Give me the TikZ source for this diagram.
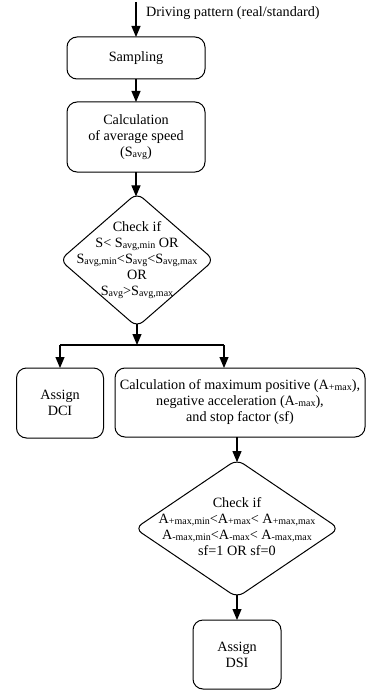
\documentclass[tikz,border=0pt]{standalone}
\usepackage{fontspec}
\setmainfont{Liberation Serif}
\usetikzlibrary{shapes.geometric,arrows.meta}
\newcommand{\subtxt}[1]{{\fontsize{10}{10}\selectfont\raisebox{-0.8pt}{#1}}}
\tikzset{
  mainfont/.style={font=\fontsize{14.2}{16}\selectfont},
  box/.style={draw, rounded corners=10pt, align=center, inner sep=0pt, outer sep=0pt, line width=1pt, mainfont},
  dia/.style={draw, diamond, rounded corners=8pt, inner sep=0pt, outer sep=0pt, line width=1pt},
  txt/.style={align=center, inner sep=0pt, mainfont},
  arr/.style={-{Triangle[length=11pt,width=9pt]}, line width=1.1pt},
  ln/.style={line width=1.1pt},
}
\begin{document}
\begin{tikzpicture}[x=1pt,y=-1pt]
\useasboundingbox (0,0) rectangle (366,690);
% input
\coordinate (in) at (136,2);
\node[txt, anchor=base west] (inlbl) at (146,17) {Driving pattern (real/standard)};
% boxes
\node[box, minimum width=138pt, minimum height=42pt] (samp) at (136,58) {Sampling};
\node[box, minimum width=138pt, minimum height=70pt] (calc) at (136,137)
  {Calculation\\ of average speed\\ (S\subtxt{avg})};
% diamond 1
\node[dia, minimum width=154pt, minimum height=134pt] (d1) at (137,260) {};
\node[txt] (d1t) at (d1.center)
  {Check if\\ S< S\subtxt{avg,min} OR\\ S\subtxt{avg,min}<S\subtxt{avg}<S\subtxt{avg,max}\\ OR\\ S\subtxt{avg}>S\subtxt{avg,max}};
% split
\coordinate (jl) at (60,345);
\coordinate (jr) at (224,345);
\coordinate (jc) at (137,345);
\node[box, minimum width=87pt, minimum height=70pt] (dci) at (60,403) {Assign\\ DCI};
\node[box, minimum width=250pt, minimum height=69pt] (cm) at (240,402.5)
  {Calculation of maximum positive (A\subtxt{+max}),\\ negative acceleration (A\subtxt{-max}),\\ and stop factor (sf)};
% diamond 2
\node[dia, minimum width=204pt, minimum height=138pt] (d2) at (237,528.5) {};
\node[txt] (d2t) at (237,527)
  {Check if\\ A\subtxt{+max,min}<A\subtxt{+max}< A\subtxt{+max,max}\\ A\subtxt{-max,min}<A\subtxt{-max}< A\subtxt{-max,max}\\ sf=1 OR sf=0};
\node[box, minimum width=88pt, minimum height=69pt] (dsi) at (237,654.5) {Assign\\ DSI};
% connectors
\draw[arr] (in) -- (samp.north);
\draw[arr] (samp.south) -- (calc.north);
\draw[arr, shorten >=-3.4pt] (calc.south) -- (calc.south |- d1.north);
\draw[arr, shorten <=-3.4pt] (d1.south) -- (jc);
\draw[ln] (jl) -- (jr);
\draw[arr] (jl) -- (dci.north);
\draw[arr] (jr) -- (cm.north -| jr);
\draw[arr, shorten >=-2.6pt] (cm.south -| d2.north) -- (d2.north);
\draw[arr, shorten <=-2.6pt] (d2.south) -- (dsi.north);
\end{tikzpicture}
\end{document}
